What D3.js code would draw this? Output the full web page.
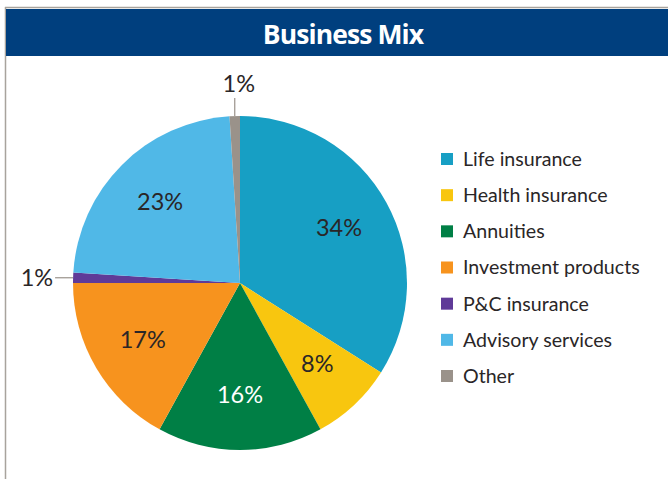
<!DOCTYPE html>
<html><head><meta charset="utf-8">
<script src="https://cdn.jsdelivr.net/npm/d3@7"></script>
<style>html,body{margin:0;padding:0;background:#fff;}svg{display:block;}</style>
</head><body>
<script>
const categories = ["Life insurance","Health insurance","Annuities","Investment products","P&C insurance","Advisory services","Other"];
const values = [34, 8, 16, 17, 1, 23, 1];
const colors = ["#179fc4","#f8c60f","#007f45","#f7931e","#5f3a98","#50b8e7","#9a928a"];
const title = "Business Mix";

const W = 668, H = 479;
const svg = d3.select("body").append("svg").attr("width", W).attr("height", H);
const font = "Lato, 'Noto Sans', sans-serif";

// frame
svg.append("line").attr("x1",5.5).attr("x2",5.5).attr("y1",7).attr("y2",H).attr("stroke","#a8a39d").attr("stroke-width",1.5);
svg.append("line").attr("x1",5).attr("x2",W).attr("y1",7.5).attr("y2",7.5).attr("stroke","#a8a39d").attr("stroke-width",1.5);
svg.append("rect").attr("x",6).attr("y",9).attr("width",W-6).attr("height",47).attr("fill","#003f7e");
svg.append("text").attr("x",343).attr("y",44).attr("text-anchor","middle")
  .attr("fill","#fff").attr("font-family","'Open Sans', sans-serif").attr("font-weight",700)
  .attr("font-size",26.5).attr("letter-spacing",-0.9).text(title);

const cx = 240, cy = 283, R = 167;
const g = svg.append("g").attr("transform",`translate(${cx},${cy})`);
const pie = d3.pie().sort(null).value(d=>d)(values);
const arc = d3.arc().innerRadius(0).outerRadius(R);
g.selectAll("path").data(pie).join("path").attr("d",arc).attr("fill",(d,i)=>colors[i]);

const labelArc = d3.arc().innerRadius(113).outerRadius(113);
const fmt = v => v + "%";
const lblSize = 23.5;
pie.forEach((d,i)=>{
  if (d.value >= 5) {
    const [x,y] = labelArc.centroid(d);
    g.append("text").attr("x",x).attr("y",y).attr("dy","0.3em").attr("text-anchor","middle")
      .attr("fill", i===2 ? "#ffffff" : "#2a2627").attr("font-family",font).attr("font-size",lblSize)
      .text(fmt(d.value));
  } else {
    const mid = (d.startAngle + d.endAngle)/2;
    const px = R*Math.sin(mid), py = -R*Math.cos(mid);
    if (Math.abs(Math.sin(mid)) > 0.7) {
      const dir = Math.sign(Math.sin(mid));
      g.append("line").attr("x1",px).attr("y1",py).attr("x2",px+dir*18).attr("y2",py)
        .attr("stroke","#9a928a").attr("stroke-width",1.2);
      g.append("text").attr("x",px+dir*20).attr("y",py).attr("dy","0.35em")
        .attr("text-anchor", dir<0 ? "end":"start")
        .attr("fill","#2a2627").attr("font-family",font).attr("font-size",lblSize).text(fmt(d.value));
    } else {
      g.append("line").attr("x1",px).attr("y1",py).attr("x2",px).attr("y2",py-18)
        .attr("stroke","#9a928a").attr("stroke-width",1.2);
      g.append("text").attr("x",px+4).attr("y",py-24).attr("text-anchor","middle")
        .attr("fill","#2a2627").attr("font-family",font).attr("font-size",lblSize).text(fmt(d.value));
    }
  }
});

// legend
const ly = d3.scalePoint().domain(categories).range([159, 376]);
const lg = svg.append("g");
categories.forEach((c,i)=>{
  lg.append("rect").attr("x",441).attr("y",ly(c)-6).attr("width",12).attr("height",12).attr("fill",colors[i]);
  lg.append("text").attr("x",463).attr("y",ly(c)).attr("dy","0.35em").attr("fill","#2a2627")
    .attr("font-family",font).attr("font-size",19.6).text(c);
});
</script>
</body></html>
